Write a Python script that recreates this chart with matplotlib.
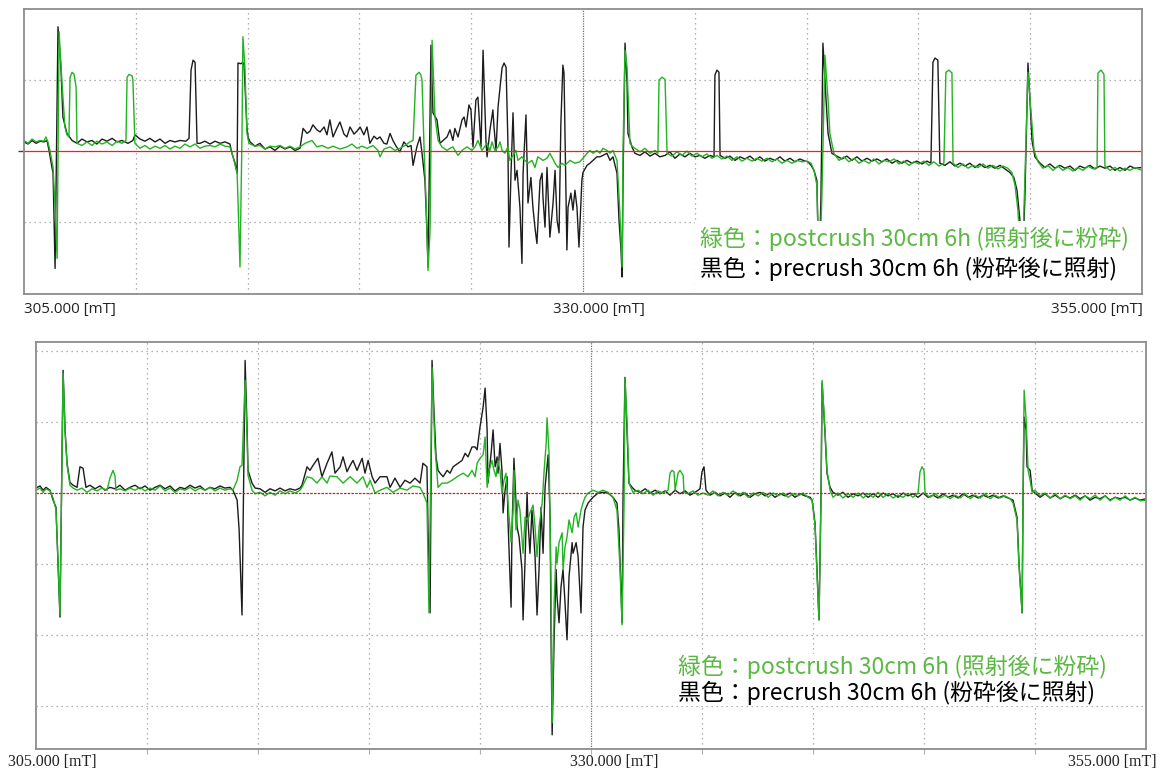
import numpy as np
import matplotlib
matplotlib.use("Agg")
import matplotlib.pyplot as plt
from matplotlib.patches import Rectangle

plt.rcParams['font.family'] = ['Noto Sans CJK JP', 'DejaVu Sans']

# ================= data =================
FIELD_MIN, FIELD_MAX = 305.0, 355.0
FIELD_LABELS = ["305.000 [mT]", "330.000 [mT]", "355.000 [mT]"]
GRID_FIELDS = [310, 315, 320, 325, 330, 335, 340, 345, 350]
LEGEND_GREEN = "緑色：postcrush 30cm 6h (照射後に粉砕)"
LEGEND_BLACK = "黒色：precrush 30cm 6h (粉砕後に照射)"

# (field mT, signal in grid divisions)
TOP_BLACK = [
    (305.00, 0.13), (305.18, 0.10), (305.36, 0.15), (305.54, 0.11), (305.72, 0.14), (305.89, 0.13),
    (306.03, 0.15), (306.12, 0.01), (306.25, -0.23), (306.30, -0.31), (306.39, -1.65), (306.52, 1.75),
    (306.65, 1.18), (306.74, 0.48), (306.92, 0.25), (307.15, 0.15), (307.37, 0.11), (307.59, 0.17),
    (307.82, 0.13), (308.04, 0.15), (308.26, 0.10), (308.49, 0.17), (308.71, 0.14), (308.94, 0.18),
    (309.16, 0.13), (309.38, 0.15), (309.65, 0.11), (309.87, 0.15), (309.96, 0.23), (310.19, 0.17),
    (310.41, 0.14), (310.63, 0.18), (310.86, 0.13), (311.08, 0.17), (311.31, 0.11), (311.53, 0.15),
    (311.75, 0.13), (311.98, 0.15), (312.24, 0.14), (312.38, 0.18), (312.47, 1.14), (312.56, 1.28),
    (312.65, 1.25), (312.74, 0.11), (312.87, 0.11), (313.09, 0.14), (313.32, 0.10), (313.54, 0.14),
    (313.77, 0.11), (313.99, 0.13), (314.21, 0.10), (314.30, -0.03), (314.44, -0.17), (314.53, -0.31),
    (314.57, 1.24), (314.70, 1.23), (314.79, 1.25), (314.84, 1.21), (314.97, 0.34), (315.02, 0.20),
    (315.11, 0.13), (315.33, 0.07), (315.55, 0.11), (315.78, 0.03), (316.00, 0.06), (316.22, 0.01),
    (316.45, 0.07), (316.67, 0.03), (316.90, 0.06), (317.12, 0.01), (317.34, 0.04), (317.48, 0.32),
    (317.66, 0.25), (317.79, 0.28), (317.92, 0.37), (318.10, 0.30), (318.24, 0.27), (318.42, 0.34),
    (318.55, 0.23), (318.68, 0.44), (318.82, 0.20), (318.99, 0.32), (319.13, 0.41), (319.31, 0.24),
    (319.44, 0.20), (319.58, 0.34), (319.76, 0.24), (319.89, 0.28), (320.03, 0.34), (320.20, 0.23),
    (320.34, 0.34), (320.47, 0.11), (320.65, 0.21), (320.79, 0.17), (320.92, 0.20), (321.10, 0.11),
    (321.23, 0.10), (321.37, 0.25), (321.50, 0.15), (321.64, 0.07), (321.81, -0.01), (321.99, 0.13),
    (322.17, 0.06), (322.31, 0.08), (322.40, -0.20), (322.57, 0.06), (322.71, 0.20), (322.80, -0.03),
    (322.93, -0.41), (323.02, -1.11), (323.07, -1.63), (323.20, 1.49), (323.29, 0.54), (323.47, 0.44),
    (323.60, 0.11), (323.74, 0.15), (323.92, 0.20), (324.05, 0.30), (324.18, 0.15), (324.27, 0.32),
    (324.41, 0.20), (324.59, 0.44), (324.68, 0.48), (324.77, 0.34), (324.90, 0.65), (324.99, 0.58),
    (325.08, 0.06), (325.21, 0.72), (325.30, 0.76), (325.44, 0.06), (325.53, 1.42), (325.66, 0.15),
    (325.71, -0.08), (325.84, 0.30), (325.97, 0.58), (326.02, 0.34), (326.11, 0.01), (326.20, 0.62),
    (326.29, 0.90), (326.38, 1.17), (326.47, 1.24), (326.56, 1.18), (326.64, 0.15), (326.69, -1.35),
    (326.78, -0.31), (326.87, 0.54), (326.96, -0.41), (327.05, -0.27), (327.18, -0.79), (327.27, -1.58),
    (327.32, -0.31), (327.45, 0.51), (327.54, -0.73), (327.67, -0.37), (327.76, -0.79), (327.85, -1.07),
    (327.94, -1.30), (328.08, -0.41), (328.17, -0.31), (328.21, -0.65), (328.30, -1.07), (328.39, -0.23),
    (328.52, -1.21), (328.66, -0.73), (328.75, -0.27), (328.84, -0.97), (328.93, -1.15), (329.01, 0.39),
    (329.10, 1.21), (329.15, 1.10), (329.28, -1.39), (329.33, -0.79), (329.46, -0.59), (329.55, -0.83),
    (329.64, -0.55), (329.73, -0.79), (329.82, -1.35), (329.95, -0.41), (330.00, -0.30), (330.18, -0.20),
    (330.31, -0.17), (330.45, -0.13), (330.62, -0.08), (330.76, -0.08), (330.89, -0.06), (331.07, -0.03),
    (331.21, -0.13), (331.34, -0.08), (331.52, -0.31), (331.61, -0.97), (331.70, -1.39), (331.75, -1.77),
    (331.79, -0.41), (331.88, 1.52), (331.97, 0.96), (332.01, 0.25), (332.19, 0.06), (332.32, -0.03),
    (332.55, -0.06), (332.77, -0.01), (333.00, -0.07), (333.22, -0.03), (333.44, -0.08), (333.67, -0.06),
    (333.89, -0.01), (334.11, -0.10), (334.34, -0.04), (334.56, -0.08), (334.78, -0.03), (335.01, -0.08),
    (335.23, -0.06), (335.45, -0.10), (335.68, -0.06), (335.86, -0.08), (335.90, 1.07), (335.99, 1.14),
    (336.08, 1.11), (336.13, -0.06), (336.35, -0.10), (336.57, -0.07), (336.80, -0.13), (337.02, -0.08),
    (337.24, -0.11), (337.47, -0.07), (337.69, -0.13), (337.91, -0.08), (338.14, -0.14), (338.36, -0.10),
    (338.58, -0.13), (338.81, -0.08), (339.03, -0.14), (339.26, -0.10), (339.48, -0.15), (339.70, -0.11),
    (339.93, -0.14), (340.06, -0.15), (340.20, -0.20), (340.33, -0.27), (340.46, -0.41), (340.55, -1.75),
    (340.64, -0.69), (340.73, 1.52), (340.87, 0.72), (340.96, 0.25), (341.13, -0.03), (341.36, -0.07),
    (341.58, -0.11), (341.80, -0.07), (342.03, -0.13), (342.25, -0.08), (342.48, -0.14), (342.70, -0.10),
    (342.92, -0.14), (343.15, -0.11), (343.37, -0.15), (343.59, -0.11), (343.82, -0.17), (344.04, -0.13),
    (344.26, -0.17), (344.49, -0.13), (344.71, -0.17), (344.93, -0.14), (345.16, -0.18), (345.38, -0.14),
    (345.56, -0.17), (345.65, 1.25), (345.74, 1.31), (345.87, 1.28), (345.96, -0.17), (346.19, -0.20),
    (346.41, -0.15), (346.63, -0.21), (346.86, -0.17), (347.08, -0.21), (347.30, -0.17), (347.53, -0.23),
    (347.75, -0.18), (347.97, -0.23), (348.20, -0.20), (348.42, -0.24), (348.65, -0.20), (348.87, -0.25),
    (349.09, -0.30), (349.27, -0.37), (349.41, -0.55), (349.54, -0.97), (349.63, -1.75), (349.76, -0.69),
    (349.90, 1.24), (349.99, 0.72), (350.08, 0.15), (350.21, -0.08), (350.44, -0.17), (350.66, -0.23),
    (350.88, -0.18), (351.11, -0.24), (351.33, -0.20), (351.55, -0.24), (351.78, -0.21), (352.00, -0.27),
    (352.22, -0.21), (352.45, -0.24), (352.67, -0.20), (352.89, -0.25), (353.12, -0.21), (353.34, -0.24),
    (353.57, -0.21), (353.79, -0.27), (354.01, -0.23), (354.24, -0.27), (354.46, -0.21), (354.68, -0.24),
    (355.00, -0.23),
]

TOP_GREEN = [
    (305.00, 0.15), (305.18, 0.11), (305.36, 0.17), (305.54, 0.13), (305.72, 0.15), (305.89, 0.14),
    (305.98, 0.20), (306.07, 0.13), (306.16, 0.01), (306.30, -0.23), (306.39, -0.79), (306.48, -1.51),
    (306.57, 1.68), (306.70, 0.96), (306.83, 0.34), (306.92, 0.23), (307.01, 0.20), (307.06, 1.04),
    (307.15, 1.11), (307.24, 1.08), (307.33, 0.90), (307.37, 0.11), (307.59, 0.08), (307.82, 0.13),
    (308.04, 0.08), (308.26, 0.14), (308.49, 0.10), (308.71, 0.13), (308.94, 0.08), (309.16, 0.14),
    (309.38, 0.11), (309.56, 0.15), (309.61, 1.04), (309.70, 1.08), (309.83, 1.06), (309.87, 1.00),
    (309.96, 0.11), (310.19, 0.04), (310.41, 0.08), (310.63, 0.03), (310.86, 0.07), (311.08, 0.04),
    (311.31, 0.08), (311.53, 0.03), (311.75, 0.07), (311.98, 0.04), (312.20, 0.10), (312.42, 0.06),
    (312.65, 0.10), (312.87, 0.04), (313.09, 0.07), (313.32, 0.08), (313.54, 0.06), (313.77, 0.10),
    (313.99, 0.07), (314.21, 0.06), (314.35, -0.08), (314.53, -0.31), (314.57, -0.69), (314.66, -1.63),
    (314.75, 0.25), (314.79, 1.61), (314.88, 1.18), (314.97, 0.25), (315.06, 0.11), (315.33, 0.07),
    (315.55, 0.08), (315.78, 0.03), (316.00, 0.07), (316.22, 0.06), (316.45, 0.08), (316.67, 0.04),
    (316.90, 0.07), (317.12, 0.03), (317.34, 0.06), (317.57, 0.11), (317.88, 0.15), (318.10, 0.06),
    (318.33, 0.08), (318.60, 0.04), (318.82, 0.07), (319.13, 0.03), (319.44, 0.06), (319.67, 0.10),
    (319.89, 0.04), (320.12, 0.07), (320.34, 0.04), (320.61, 0.08), (320.83, 0.01), (320.92, -0.08),
    (321.10, 0.03), (321.37, 0.06), (321.59, 0.01), (321.81, 0.04), (322.04, 0.08), (322.26, 0.13),
    (322.40, 0.15), (322.53, 1.07), (322.67, 1.11), (322.75, 1.07), (322.80, 1.00), (322.89, 0.06),
    (322.98, -0.69), (323.07, -1.68), (323.16, -1.11), (323.25, 1.56), (323.38, 0.48), (323.52, 0.15),
    (323.69, 0.06), (323.92, 0.01), (324.05, 0.04), (324.18, 0.06), (324.41, -0.06), (324.59, 0.01),
    (324.81, 0.06), (325.03, 0.01), (325.17, 0.06), (325.30, 0.15), (325.48, 0.01), (325.71, 0.11),
    (325.84, 0.01), (325.93, 0.13), (326.06, 0.01), (326.20, 0.06), (326.29, 0.13), (326.38, 0.01),
    (326.51, -0.03), (326.64, 0.06), (326.73, -0.13), (326.87, -0.06), (327.00, 0.01), (327.09, -0.13),
    (327.27, -0.08), (327.40, -0.13), (327.54, -0.17), (327.72, -0.13), (327.85, -0.23), (327.98, -0.08),
    (328.21, -0.13), (328.39, -0.10), (328.52, -0.03), (328.75, -0.17), (328.88, -0.23), (329.06, -0.17),
    (329.19, -0.20), (329.42, -0.13), (329.64, -0.17), (329.86, -0.15), (330.00, -0.10), (330.18, -0.03),
    (330.31, 0.01), (330.45, -0.03), (330.62, 0.01), (330.76, -0.03), (330.89, 0.04), (331.07, 0.01),
    (331.21, -0.03), (331.34, 0.01), (331.52, -0.13), (331.65, -0.87), (331.75, -1.63), (331.79, 0.01),
    (331.88, 1.42), (331.97, 1.18), (332.10, 0.11), (332.23, 0.06), (332.55, -0.01), (332.77, 0.04),
    (333.00, -0.03), (333.22, 0.01), (333.35, -0.03), (333.40, 1.00), (333.53, 1.04), (333.67, 1.01),
    (333.76, -0.03), (333.98, -0.07), (334.20, -0.01), (334.43, -0.06), (334.65, 0.00), (334.87, -0.07),
    (335.10, -0.03), (335.32, -0.08), (335.54, -0.04), (335.77, -0.10), (335.99, -0.06), (336.21, -0.11),
    (336.44, -0.07), (336.66, -0.13), (336.89, -0.08), (337.11, -0.14), (337.33, -0.10), (337.56, -0.14),
    (337.78, -0.10), (338.00, -0.14), (338.23, -0.10), (338.45, -0.15), (338.67, -0.11), (338.90, -0.17),
    (339.12, -0.13), (339.34, -0.17), (339.57, -0.13), (339.79, -0.15), (340.02, -0.14), (340.20, -0.17),
    (340.33, -0.27), (340.46, -0.48), (340.55, -1.75), (340.68, -0.69), (340.82, 1.35), (340.96, 0.72),
    (341.04, 0.25), (341.22, -0.03), (341.45, -0.13), (341.67, -0.08), (341.89, -0.15), (342.12, -0.10),
    (342.34, -0.17), (342.56, -0.13), (342.79, -0.17), (343.01, -0.11), (343.24, -0.18), (343.46, -0.13),
    (343.68, -0.15), (343.91, -0.11), (344.13, -0.18), (344.35, -0.14), (344.58, -0.20), (344.80, -0.15),
    (345.02, -0.18), (345.25, -0.14), (345.47, -0.20), (345.69, -0.15), (345.92, -0.21), (346.14, -0.17),
    (346.23, 1.11), (346.37, 1.14), (346.50, 1.10), (346.55, -0.17), (346.77, -0.23), (346.99, -0.18),
    (347.22, -0.24), (347.44, -0.20), (347.66, -0.23), (347.89, -0.18), (348.11, -0.24), (348.33, -0.20),
    (348.56, -0.25), (348.78, -0.21), (349.00, -0.24), (349.18, -0.30), (349.32, -0.48), (349.45, -0.83),
    (349.63, -1.75), (349.76, -0.41), (349.90, 1.11), (350.03, 0.58), (350.17, 0.01), (350.35, -0.15),
    (350.57, -0.24), (350.79, -0.20), (351.02, -0.27), (351.24, -0.21), (351.46, -0.27), (351.69, -0.23),
    (351.91, -0.28), (352.13, -0.23), (352.36, -0.27), (352.58, -0.21), (352.81, -0.25), (352.99, -0.23),
    (353.03, 1.10), (353.17, 1.14), (353.30, 1.08), (353.34, -0.21), (353.57, -0.27), (353.79, -0.23),
    (354.01, -0.28), (354.24, -0.24), (354.46, -0.27), (354.68, -0.23), (355.00, -0.27),
]

BOTTOM_BLACK = [
    (305.00, 0.07), (305.18, 0.10), (305.32, 0.04), (305.45, 0.08), (305.63, 0.04), (305.77, -0.10),
    (305.90, -0.20), (305.99, -0.99), (306.08, -1.75), (306.22, 1.73), (306.31, 0.89), (306.40, 0.42),
    (306.53, 0.15), (306.67, 0.11), (306.85, 0.08), (306.98, 0.37), (307.12, 0.35), (307.25, 0.08),
    (307.43, 0.11), (307.66, 0.06), (307.88, 0.10), (308.11, 0.04), (308.33, 0.08), (308.56, 0.06),
    (308.78, 0.11), (309.01, 0.04), (309.23, 0.08), (309.46, 0.11), (309.69, 0.06), (309.91, 0.10),
    (310.14, 0.04), (310.36, 0.08), (310.59, 0.11), (310.81, 0.06), (311.04, 0.10), (311.26, 0.03),
    (311.49, 0.08), (311.71, 0.06), (311.94, 0.11), (312.16, 0.07), (312.39, 0.10), (312.61, 0.04),
    (312.84, 0.08), (313.06, 0.06), (313.29, 0.10), (313.51, 0.07), (313.74, 0.08), (313.87, 0.04),
    (314.06, -0.10), (314.15, -0.52), (314.28, -1.72), (314.42, 1.87), (314.51, 0.89), (314.55, 0.32),
    (314.73, 0.14), (314.87, 0.07), (315.09, 0.06), (315.32, 0.01), (315.54, 0.06), (315.77, 0.03),
    (315.99, 0.07), (316.22, 0.03), (316.44, 0.06), (316.67, 0.04), (316.89, 0.07), (316.98, 0.11),
    (317.21, 0.37), (317.34, 0.32), (317.48, 0.39), (317.70, 0.49), (317.88, 0.23), (318.11, 0.42),
    (318.33, 0.58), (318.47, 0.28), (318.70, 0.37), (318.83, 0.51), (319.01, 0.30), (319.15, 0.39),
    (319.28, 0.46), (319.46, 0.32), (319.69, 0.49), (319.82, 0.28), (319.96, 0.46), (320.14, 0.23),
    (320.27, 0.14), (320.50, 0.23), (320.63, 0.23), (320.81, 0.23), (320.95, 0.08), (321.17, 0.21),
    (321.40, 0.08), (321.62, 0.18), (321.85, 0.14), (322.07, 0.21), (322.30, 0.14), (322.43, 0.42),
    (322.61, 0.37), (322.66, -0.52), (322.75, -1.69), (322.84, 1.87), (322.93, 1.13), (323.02, 0.51),
    (323.11, 0.32), (323.20, 0.28), (323.34, 0.23), (323.52, 0.32), (323.65, 0.28), (323.79, 0.37),
    (324.01, 0.42), (324.19, 0.46), (324.33, 0.56), (324.46, 0.51), (324.64, 0.65), (324.78, 0.65),
    (324.87, 0.61), (325.00, 0.93), (325.14, 1.21), (325.23, 1.48), (325.32, 0.89), (325.36, 0.14),
    (325.50, 0.56), (325.59, 0.89), (325.68, 0.37), (325.77, 0.51), (325.81, 0.28), (325.90, 0.70),
    (325.99, 0.32), (326.04, -0.28), (326.13, 0.04), (326.22, 0.23), (326.26, -0.38), (326.40, -1.61),
    (326.44, -0.56), (326.53, 0.49), (326.62, -0.14), (326.67, -0.48), (326.76, -0.62), (326.89, -1.08),
    (326.94, -1.79), (327.03, -0.94), (327.12, 0.01), (327.16, -0.38), (327.25, -0.85), (327.34, -0.24),
    (327.39, -0.48), (327.48, -0.90), (327.57, -1.72), (327.66, -1.08), (327.75, -0.20), (327.84, -0.85),
    (327.93, 0.08), (328.02, 0.37), (328.07, 0.54), (328.16, -0.38), (328.20, -2.03), (328.25, -3.41),
    (328.34, -2.03), (328.43, -1.08), (328.47, -1.46), (328.56, -1.83), (328.65, -1.32), (328.74, -1.08),
    (328.83, -1.55), (328.92, -2.07), (329.01, -1.18), (329.15, -0.70), (329.19, -0.85), (329.33, -0.70),
    (329.42, -0.90), (329.55, -1.69), (329.64, -0.48), (329.73, -0.24), (329.87, -0.14), (330.09, -0.06),
    (330.32, 0.00), (330.54, 0.01), (330.77, 0.00), (330.99, -0.06), (331.17, -0.14), (331.26, -0.52),
    (331.40, -1.83), (331.44, -0.14), (331.53, 1.63), (331.62, 0.89), (331.71, 0.14), (331.85, 0.08),
    (331.98, 0.04), (332.21, 0.01), (332.44, 0.06), (332.66, 0.00), (332.89, 0.04), (333.11, -0.01),
    (333.34, 0.03), (333.56, -0.03), (333.79, 0.04), (334.01, -0.01), (334.24, 0.03), (334.46, -0.03),
    (334.69, 0.01), (334.91, 0.06), (335.00, 0.30), (335.09, 0.37), (335.18, 0.04), (335.36, -0.03),
    (335.59, 0.01), (335.81, -0.04), (336.04, 0.00), (336.26, -0.06), (336.49, 0.01), (336.72, -0.04),
    (336.94, 0.00), (337.17, -0.06), (337.39, -0.01), (337.62, 0.01), (337.84, -0.04), (338.07, 0.00),
    (338.29, -0.06), (338.52, -0.01), (338.74, -0.04), (338.97, 0.00), (339.19, -0.06), (339.42, -0.01),
    (339.64, -0.04), (339.87, -0.06), (339.96, -0.10), (340.09, -0.42), (340.18, -1.08), (340.27, -1.79),
    (340.36, -0.06), (340.41, 1.55), (340.54, 0.85), (340.63, 0.28), (340.77, 0.08), (340.90, 0.01),
    (341.13, -0.03), (341.35, 0.01), (341.58, -0.06), (341.81, -0.01), (342.03, -0.04), (342.26, 0.00),
    (342.48, -0.06), (342.71, -0.01), (342.93, -0.06), (343.16, 0.00), (343.38, -0.04), (343.61, -0.01),
    (343.83, -0.06), (344.06, 0.00), (344.28, -0.04), (344.51, -0.01), (344.73, -0.06), (344.96, 0.00),
    (345.18, -0.06), (345.41, -0.03), (345.63, -0.07), (345.86, -0.01), (346.09, -0.06), (346.31, -0.03),
    (346.54, -0.07), (346.76, -0.01), (346.99, -0.06), (347.21, -0.03), (347.44, -0.07), (347.66, -0.03),
    (347.89, -0.06), (348.11, -0.03), (348.34, -0.07), (348.56, -0.04), (348.79, -0.07), (349.01, -0.10),
    (349.19, -0.34), (349.28, -0.99), (349.42, -1.69), (349.46, -0.10), (349.51, 1.07), (349.60, 0.89),
    (349.64, 0.37), (349.78, 0.32), (349.87, 0.04), (350.00, 0.00), (350.23, -0.06), (350.45, -0.01),
    (350.68, -0.07), (350.91, -0.03), (351.13, -0.08), (351.36, -0.04), (351.58, -0.07), (351.81, -0.03),
    (352.03, -0.08), (352.26, -0.04), (352.48, -0.10), (352.71, -0.06), (352.93, -0.08), (353.16, -0.04),
    (353.38, -0.10), (353.61, -0.06), (353.83, -0.08), (354.06, -0.06), (354.28, -0.10), (354.51, -0.07),
    (354.74, -0.10), (355.00, -0.08),
]

BOTTOM_GREEN = [
    (305.00, 0.04), (305.18, 0.07), (305.32, 0.01), (305.45, 0.06), (305.63, 0.03), (305.77, -0.07),
    (305.90, -0.24), (305.99, -0.94), (306.08, -1.72), (306.22, 1.69), (306.31, 0.85), (306.40, 0.39),
    (306.53, 0.11), (306.67, 0.07), (306.85, 0.04), (307.07, 0.07), (307.30, 0.01), (307.52, 0.06),
    (307.75, 0.03), (307.97, 0.07), (308.20, 0.04), (308.33, 0.21), (308.47, 0.32), (308.56, 0.24),
    (308.60, 0.04), (308.78, 0.06), (309.01, 0.03), (309.23, 0.07), (309.46, 0.04), (309.69, 0.08),
    (309.91, 0.03), (310.14, 0.07), (310.36, 0.04), (310.59, 0.10), (310.81, 0.03), (311.04, 0.07),
    (311.26, 0.01), (311.49, 0.06), (311.71, 0.04), (311.94, 0.08), (312.16, 0.03), (312.39, 0.07),
    (312.61, 0.04), (312.84, 0.08), (313.06, 0.03), (313.29, 0.07), (313.51, 0.04), (313.74, 0.06),
    (313.87, 0.04), (314.06, 0.18), (314.19, 0.37), (314.28, 0.39), (314.42, 1.59), (314.51, 0.75),
    (314.55, 0.25), (314.73, 0.04), (314.87, -0.01), (315.09, 0.01), (315.32, -0.04), (315.54, 0.01),
    (315.77, -0.03), (315.99, 0.03), (316.22, -0.01), (316.44, 0.03), (316.67, 0.00), (316.89, 0.04),
    (316.98, 0.08), (317.21, 0.23), (317.43, 0.21), (317.66, 0.14), (317.88, 0.23), (318.11, 0.14),
    (318.24, 0.24), (318.56, 0.23), (318.83, 0.14), (319.15, 0.23), (319.46, 0.14), (319.73, 0.23),
    (319.91, 0.08), (320.05, 0.18), (320.27, 0.00), (320.50, 0.04), (320.81, 0.08), (321.08, 0.01),
    (321.40, 0.07), (321.71, 0.04), (321.98, 0.10), (322.30, 0.08), (322.43, 0.00), (322.61, -0.14),
    (322.70, -1.69), (322.84, 1.77), (322.97, 0.65), (323.11, 0.08), (323.29, 0.14), (323.52, 0.14),
    (323.74, 0.18), (323.97, 0.23), (324.24, 0.28), (324.46, 0.23), (324.64, 0.32), (324.78, 0.23),
    (324.87, 0.42), (325.00, 0.49), (325.14, 0.54), (325.23, 0.79), (325.32, 0.08), (325.41, 0.32),
    (325.54, 0.46), (325.63, 0.32), (325.72, 0.23), (325.81, 0.46), (325.90, 0.32), (325.99, 0.00),
    (326.08, 0.18), (326.17, 0.28), (326.26, -0.14), (326.40, -0.69), (326.49, -0.24), (326.53, 0.32),
    (326.62, -0.52), (326.71, -0.10), (326.80, -0.24), (326.94, -0.85), (327.03, -0.34), (327.16, -0.38),
    (327.25, -0.28), (327.39, -0.17), (327.48, -0.48), (327.57, -0.90), (327.66, -0.48), (327.80, -0.14),
    (327.89, 0.32), (327.98, 0.70), (328.02, 1.06), (328.11, 0.56), (328.20, -1.32), (328.25, -3.24),
    (328.34, -1.55), (328.43, -0.76), (328.47, -0.99), (328.56, -0.70), (328.70, -0.56), (328.74, -1.08),
    (328.83, -0.76), (328.92, -0.62), (329.01, -0.38), (329.15, -0.56), (329.24, -0.34), (329.33, -0.28),
    (329.42, -0.48), (329.55, -0.24), (329.64, -0.14), (329.73, -0.06), (329.87, 0.00), (330.09, 0.04),
    (330.32, 0.01), (330.54, 0.04), (330.77, 0.01), (330.99, -0.06), (331.17, -0.24), (331.31, -1.08),
    (331.40, -1.86), (331.49, -0.14), (331.53, 1.63), (331.62, 1.03), (331.71, 0.14), (331.89, 0.01),
    (332.12, 0.04), (332.35, -0.01), (332.57, 0.04), (332.80, -0.03), (333.02, 0.03), (333.25, 0.00),
    (333.47, 0.04), (333.56, 0.28), (333.65, 0.32), (333.74, 0.30), (333.79, 0.04), (333.92, 0.28),
    (334.01, 0.32), (334.15, 0.25), (334.19, 0.01), (334.37, -0.01), (334.60, 0.03), (334.82, -0.03),
    (335.05, 0.00), (335.27, -0.03), (335.50, 0.03), (335.72, -0.04), (335.95, 0.01), (336.17, -0.03),
    (336.40, 0.03), (336.63, -0.04), (336.85, 0.01), (337.08, -0.06), (337.30, 0.00), (337.53, -0.04),
    (337.75, 0.01), (337.98, -0.06), (338.20, 0.00), (338.43, -0.04), (338.65, 0.00), (338.88, -0.06),
    (339.10, -0.01), (339.33, -0.04), (339.55, 0.00), (339.78, -0.06), (339.96, -0.10), (340.09, -0.45),
    (340.18, -1.15), (340.27, -1.79), (340.36, -0.10), (340.41, 1.59), (340.54, 0.89), (340.63, 0.32),
    (340.77, 0.04), (340.90, -0.06), (341.13, 0.00), (341.35, -0.07), (341.58, -0.01), (341.81, -0.06),
    (342.03, 0.00), (342.26, -0.07), (342.48, -0.01), (342.71, -0.06), (342.93, 0.01), (343.16, -0.06),
    (343.38, -0.01), (343.61, -0.07), (343.83, -0.03), (344.06, -0.06), (344.28, -0.01), (344.51, -0.06),
    (344.73, 0.00), (344.82, 0.30), (344.91, 0.37), (345.00, 0.32), (345.05, -0.01), (345.27, -0.06),
    (345.50, -0.01), (345.72, -0.07), (345.95, -0.03), (346.18, -0.08), (346.40, -0.03), (346.63, -0.07),
    (346.85, -0.01), (347.08, -0.08), (347.30, -0.03), (347.53, -0.07), (347.75, -0.01), (347.98, -0.08),
    (348.20, -0.03), (348.43, -0.07), (348.65, -0.04), (348.88, -0.08), (349.01, -0.14), (349.19, -0.38),
    (349.28, -1.04), (349.42, -1.69), (349.46, -0.10), (349.51, 1.45), (349.60, 1.03), (349.69, 0.32),
    (349.78, 0.18), (349.87, 0.01), (350.00, 0.04), (350.23, -0.04), (350.45, 0.00), (350.68, -0.07),
    (350.91, -0.01), (351.13, -0.08), (351.36, -0.03), (351.58, -0.08), (351.81, -0.04), (352.03, -0.10),
    (352.26, -0.04), (352.48, -0.08), (352.71, -0.03), (352.93, -0.10), (353.16, -0.04), (353.38, -0.11),
    (353.61, -0.06), (353.83, -0.10), (354.06, -0.04), (354.28, -0.10), (354.51, -0.06), (354.74, -0.11),
    (355.00, -0.10),
]

# ================= style =================
GREEN = "#22b322"
BLACK = "#1c1c1c"
TEXT_GREEN = "#5cb844"
FRAME = "#8c8c8c"
GRID = "#9a9a9a"
W, H = 1161, 771


def px_box(left, top, right, bottom):
    """pixel box of the reference -> figure fraction rect"""
    return [left / W, (H - bottom) / H, (right - left) / W, (bottom - top) / H]


def draw_panel(ax, black, green, ylim, hlines, zero_color, zero_ls):
    ax.set_xlim(FIELD_MIN, FIELD_MAX)
    ax.set_ylim(*ylim)
    for s in ax.spines.values():
        s.set_color(FRAME)
        s.set_linewidth(1.3)
        s.set_zorder(8)

    for f in GRID_FIELDS:
        if f == 330:
            ax.axvline(f, color="#6e6e6e", lw=0.9, ls=(0, (1, 1)), zorder=1)
        else:
            ax.axvline(f, color=GRID, lw=0.9, ls=(0, (1, 3)), zorder=1)
    for h in hlines:
        ax.axhline(h, color=GRID, lw=0.9, ls=(0, (1, 3)), zorder=1)

    b = np.array(black)
    g = np.array(green)
    ax.plot(b[:, 0], b[:, 1], color=BLACK, lw=1.0, zorder=3)
    ax.plot(g[:, 0], g[:, 1], color=GREEN, lw=1.0, zorder=3.5)
    ax.axhline(0, color=zero_color, lw=0.9, ls=zero_ls, zorder=4)


def main():
    fig = plt.figure(figsize=(W / 100, H / 100), dpi=100)

    # ---- top panel ----
    ax1 = fig.add_axes(px_box(24, 9, 1142, 294))
    draw_panel(ax1, TOP_BLACK, TOP_GREEN, (-2.01, 2.0), [-1, 1], "#ff1a1a", "-")
    ax1.set_xticks([])
    ax1.set_yticks([0])
    ax1.tick_params(axis="y", length=4.5, width=1.0, color="#404040", labelleft=False)
    ax1.add_patch(Rectangle((335.0, -2.01), 20.0, 1.03, facecolor="white",
                            edgecolor="none", zorder=6))
    ax1.text(335.25, -1.24, LEGEND_GREEN, color=TEXT_GREEN, fontsize=16.5,
             va="center", ha="left", zorder=7)
    ax1.text(335.25, -1.65, LEGEND_BLACK, color="black", fontsize=16.5,
             va="center", ha="left", zorder=7)

    lab_font = dict(family=["Open Sans", "DejaVu Sans"], fontsize=10.8, color="#222222")
    ty = (H - 309) / H
    fig.text(24 / W, ty, FIELD_LABELS[0], ha="left", va="center", **lab_font)
    fig.text(553 / W, ty, FIELD_LABELS[1], ha="left", va="center", **lab_font)
    fig.text(1143 / W, ty, FIELD_LABELS[2], ha="right", va="center", **lab_font)

    # ---- bottom panel ----
    ax2 = fig.add_axes(px_box(36, 342, 1146, 749))
    draw_panel(ax2, BOTTOM_BLACK, BOTTOM_GREEN, (-3.61, 2.13), [-3, -2, -1, 1, 2],
               "#c02828", (0, (2, 1)))
    ax2.set_xticks(GRID_FIELDS)
    ax2.set_yticks([])
    ax2.tick_params(axis="x", length=3.5, width=0.8, color="#b0b0b0", labelbottom=False)
    box = dict(facecolor="white", edgecolor="none", pad=0.5)
    ax2.text(333.9, -2.45, LEGEND_GREEN, color=TEXT_GREEN, fontsize=16.5,
             va="center", ha="left", zorder=7, bbox=box)
    ax2.text(333.9, -2.82, LEGEND_BLACK, color="black", fontsize=16.5,
             va="center", ha="left", zorder=7, bbox=box)

    ser_font = dict(family=["Liberation Serif", "DejaVu Serif"], fontsize=11.5, color="#222222")
    by = (H - 762) / H
    fig.text(8 / W, by, FIELD_LABELS[0], ha="left", va="center", **ser_font)
    fig.text(570 / W, by, FIELD_LABELS[1], ha="left", va="center", **ser_font)
    fig.text(1157 / W, by, FIELD_LABELS[2], ha="right", va="center", **ser_font)

    fig.savefig("out.png", dpi=100, facecolor="white")
    plt.close(fig)


if __name__ == "__main__":
    main()
